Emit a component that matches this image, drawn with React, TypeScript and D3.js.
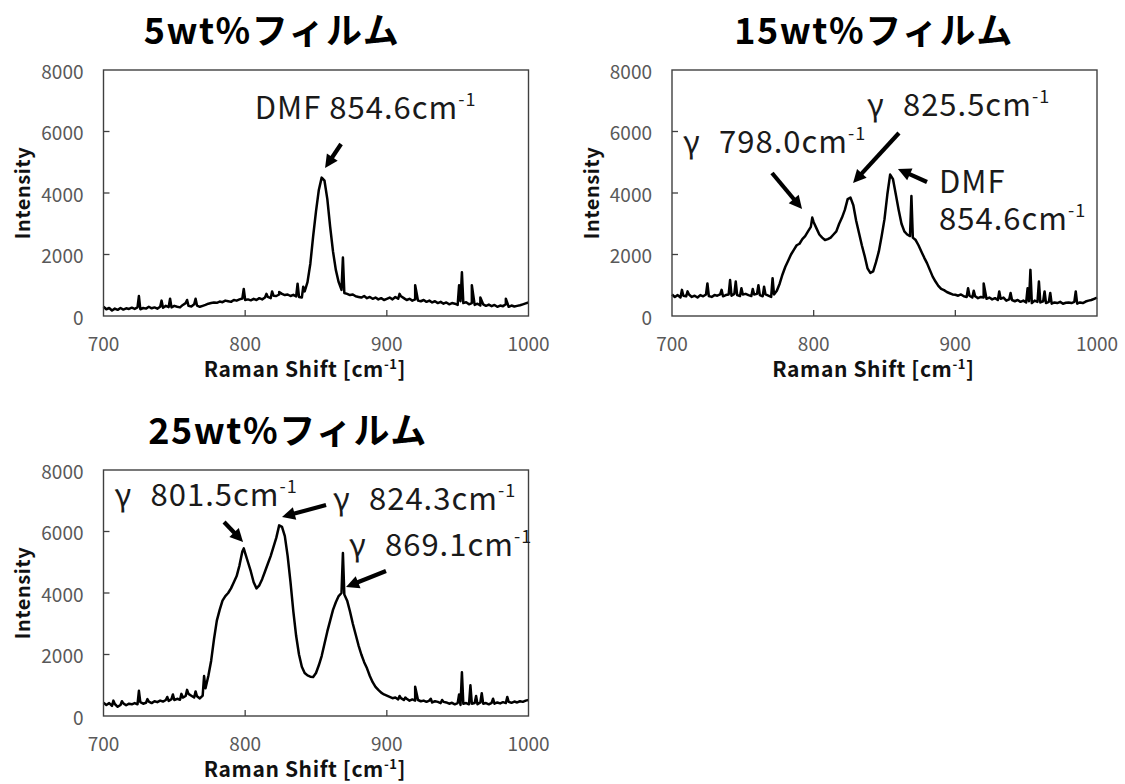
import React from 'react';
import * as d3 from 'd3';

// ---------- data ----------
const SHIFT: number[] = d3.range(700, 1001, 2); // Raman shift sampling grid (cm-1)
const X_TICKS = [700, 800, 900, 1000];
const Y_TICKS = [0, 2000, 4000, 6000, 8000];
const X_DOMAIN: [number, number] = [700, 1000];
const Y_DOMAIN: [number, number] = [0, 8000];

const TITLE_5 = '5wt%フィルム';
const TITLE_15 = '15wt%フィルム';
const TITLE_25 = '25wt%フィルム';

// 5wt% film intensity (step 2 cm-1)
const I5: number[] = [
  300, 220, 260, 180, 240, 200, 260, 210, 250, 230, 270,
  230, 280, 220, 260, 240, 300, 250, 280, 240, 300,
  270, 330, 290, 280, 330, 300, 280, 360, 420, 330,
  310, 380, 340, 300, 330, 360, 400, 420, 440, 430,
  470, 450, 500, 480, 460, 520, 500, 540, 570, 520,
  540, 510, 560, 520, 580, 540, 600, 620, 580, 660,
  650, 700, 720, 680, 700, 650, 690, 640, 620, 600,
  800, 1100, 1700, 2600, 3400, 4100, 4500, 4400, 3800, 2900,
  2100, 1500, 1100, 850, 750, 720, 680, 700, 640, 620,
  600, 650, 580, 620, 560, 600, 540, 580, 520, 560,
  600, 540, 620, 560, 640, 580, 520, 560, 500, 540,
  500, 480, 520, 460, 500, 440, 480, 420, 460, 400,
  440, 380, 420, 400, 360, 480, 420, 450, 380, 420,
  360, 400, 340, 380, 330, 370, 320, 360, 300, 340,
  320, 380, 300, 340, 310, 330, 350, 380, 410, 440,
];
const SPIKES5: [number, number][] = [
  [725, 650], [741, 500], [747, 560], [759, 520], [765, 560], [799, 880],
  [815, 720], [819, 800], [824, 780], [837, 1050], [841, 950], [869, 1900],
  [909, 720], [920, 1000], [951, 1000], [953, 1420], [960, 1000], [966, 600], [984, 560],
];

// 15wt% film intensity
const I15: number[] = [
  700, 620, 680, 600, 660, 640, 700, 620, 660, 600, 680,
  640, 700, 650, 620, 680, 660, 700, 640, 680, 700,
  660, 720, 680, 650, 700, 720, 680, 650, 700, 720,
  680, 640, 700, 660, 620, 700, 820, 1050, 1350, 1600,
  1800, 2000, 2150, 2300, 2350, 2500, 2600, 2750, 2900, 3050,
  2850, 2650, 2550, 2470, 2500, 2550, 2650, 2750, 3000, 3200,
  3450, 3800, 3850, 3600, 3100, 2700, 2300, 1950, 1550, 1400,
  1450, 1750, 2100, 2600, 3150, 3950, 4600, 4450, 3950, 3450,
  3000, 2750, 2650, 2600, 2550, 2470, 2300, 2100, 1900, 1720,
  1500, 1280, 1120, 980, 880, 840, 780, 740, 700, 690,
  660, 700, 640, 620, 660, 600, 640, 580, 620, 600,
  560, 600, 540, 580, 520, 560, 600, 500, 540, 520,
  480, 520, 460, 500, 440, 480, 420, 500, 460, 440,
  480, 420, 460, 400, 440, 420, 460, 400, 430, 440,
  420, 460, 400, 440, 420, 470, 500, 520, 560, 600,
];
const SPIKES15: [number, number][] = [
  [707, 850], [711, 800], [725, 1060], [735, 850], [741, 1170], [745, 1120],
  [749, 900], [757, 880], [761, 1000], [765, 950], [771, 1230], [799, 3200],
  [869, 3900], [909, 900], [913, 820], [920, 1060], [931, 800], [939, 750],
  [951, 900], [953, 1500], [959, 1120], [963, 800], [967, 750], [985, 800],
];

// 25wt% film intensity
const I25: number[] = [
  430, 360, 420, 330, 390, 300, 360, 410, 350, 400, 380,
  420, 380, 450, 400, 430, 470, 420, 480, 450, 500,
  470, 520, 490, 550, 520, 560, 530, 600, 650, 720,
  660, 600, 640, 570, 660, 900, 1300, 1800, 2500, 3100,
  3450, 3750, 3900, 4000, 4150, 4350, 4550, 4900, 5350, 5300,
  5000, 4700, 4350, 4150, 4250, 4450, 4700, 4950, 5200, 5500,
  5800, 6200, 6150, 5850, 5200, 4350, 3400, 2600, 2000, 1600,
  1400, 1320, 1280, 1270, 1400, 1650, 1950, 2350, 2750, 3100,
  3450, 3700, 3900, 4000, 3950, 3750, 3400, 3000, 2650, 2300,
  2000, 1750, 1550, 1300, 1100, 950, 850, 760, 700, 660,
  620, 580, 600, 540, 580, 520, 560, 500, 540, 500,
  520, 480, 500, 460, 500, 440, 480, 460, 420, 460,
  440, 400, 430, 380, 420, 360, 400, 420, 380, 400,
  420, 380, 440, 400, 420, 380, 430, 400, 440, 410,
  450, 420, 460, 430, 470, 440, 480, 460, 500, 520,
];
const SPIKES25: [number, number][] = [
  [707, 500], [713, 480], [725, 820], [731, 550], [745, 620], [749, 700],
  [755, 720], [759, 850], [765, 800], [771, 1300], [799, 5450], [869, 5300],
  [909, 650], [913, 600], [920, 950], [931, 560], [939, 520], [951, 700],
  [953, 1420], [959, 1000], [963, 650], [967, 740], [975, 560], [985, 620],
];

// annotations in data coordinates: [x, y] baseline-left of text
type Label = { prefix: string; text: string; sup: boolean; at: [number, number] };
type Arrow = { from: [number, number]; to: [number, number] };

const LABELS5: Label[] = [{ prefix: '', text: 'DMF 854.6cm', sup: true, at: [806.8, 6407] }];
const ARROWS5: Arrow[] = [{ from: [867.7, 5593], to: [856.4, 4813] }];

const LABELS15: Label[] = [
  { prefix: 'γ', text: '798.0cm', sup: true, at: [707.8, 5300] },
  { prefix: 'γ', text: '825.5cm', sup: true, at: [837.6, 6504] },
  { prefix: '', text: 'DMF', sup: false, at: [888.5, 4000] },
  { prefix: '', text: '854.6cm', sup: true, at: [888.5, 2797] },
];
const ARROWS15: Arrow[] = [
  { from: [770.6, 4650], to: [791.8, 3480] },
  { from: [860.2, 5951], to: [827.8, 4325] },
  { from: [880.0, 4358], to: [859.5, 4780] },
];

const LABELS25: Label[] = [
  { prefix: 'γ', text: '801.5cm', sup: true, at: [707.8, 6829] },
  { prefix: 'γ', text: '824.3cm', sup: true, at: [862.0, 6699] },
  { prefix: 'γ', text: '869.1cm', sup: true, at: [873.3, 5203] },
];
const ARROWS25: Arrow[] = [
  { from: [785.1, 6309], to: [798.5, 5659] },
  { from: [857.1, 6862], to: [826.0, 6472] },
  { from: [899.4, 4715], to: [871.2, 4195] },
];

// ---------- styling / layout ----------
const FONT = "'Noto Sans CJK JP','Noto Sans',sans-serif";
const W = 1125;
const H = 784;
const PW = 425;
const PH = 246;
const GAMMA_GAP = 36;

function buildSeries(base: number[], spikes: [number, number][]): [number, number][] {
  const pts: [number, number][] = base.map((v, i) => [SHIFT[i], v]);
  spikes.forEach((s) => pts.push(s));
  pts.sort((a, b) => a[0] - b[0]);
  return pts;
}

type PanelProps = {
  left: number;
  top: number;
  title: string;
  titleCx: number;
  base: number[];
  spikes: [number, number][];
  labels: Label[];
  arrows: Arrow[];
};

function Panel({ left, top, title, titleCx, base, spikes, labels, arrows }: PanelProps) {
  const x = d3.scaleLinear().domain(X_DOMAIN).range([0, PW]);
  const y = d3.scaleLinear().domain(Y_DOMAIN).range([PH, 0]);
  const line = d3
    .line<[number, number]>()
    .x((d) => x(d[0]))
    .y((d) => y(d[1]));
  const data = buildSeries(base, spikes);
  const tickColor = '#595959';
  return (
    <g transform={`translate(${left},${top})`}>
      <text
        x={titleCx}
        y={-26}
        textAnchor="middle"
        fontFamily={FONT}
        fontWeight={700}
        fontSize={36}
        letterSpacing={1.5}
        fill="#000"
      >
        {title}
      </text>
      {/* y ticks */}
      {Y_TICKS.map((t) => (
        <g key={'y' + t}>
          {t > Y_DOMAIN[0] && t < Y_DOMAIN[1] && (
            <line x1={0} x2={6} y1={y(t)} y2={y(t)} stroke="#404040" strokeWidth={1.3} />
          )}
          <text
            x={-20}
            y={y(t)}
            textAnchor="end"
            dominantBaseline="central"
            fontFamily={FONT}
            fontSize={19}
            fill={tickColor}
          >
            {t}
          </text>
        </g>
      ))}
      {/* x ticks */}
      {X_TICKS.map((t) => (
        <g key={'x' + t}>
          {t > X_DOMAIN[0] && t < X_DOMAIN[1] && (
            <line x1={x(t)} x2={x(t)} y1={PH} y2={PH - 6} stroke="#404040" strokeWidth={1.3} />
          )}
          <text
            x={x(t)}
            y={PH + 26}
            textAnchor="middle"
            dominantBaseline="central"
            fontFamily={FONT}
            fontSize={19}
            fill={tickColor}
          >
            {t}
          </text>
        </g>
      ))}
      <path
        d={line(data) || ''}
        fill="none"
        stroke="#000"
        strokeWidth={2.5}
        strokeLinejoin="round"
      />
      <rect x={0} y={0} width={PW} height={PH} fill="none" stroke="#404040" strokeWidth={1.4} />
      {/* axis titles */}
      <text
        x={PW / 2 - 11}
        y={PH + 61}
        textAnchor="middle"
        fontFamily={FONT}
        fontWeight={700}
        fontSize={21}
        letterSpacing={0.6}
        fill="#111"
      >
        Raman Shift [cm
        <tspan dy={-8} fontSize={13}>
          -1
        </tspan>
        <tspan dy={8}>]</tspan>
      </text>
      <text
        transform={`translate(${-82},${PH / 2}) rotate(-90)`}
        textAnchor="middle"
        dominantBaseline="central"
        fontFamily={FONT}
        fontWeight={700}
        fontSize={20}
        letterSpacing={0.5}
        fill="#111"
      >
        Intensity
      </text>
      {/* annotations */}
      {arrows.map((a, i) => {
        const x1 = x(a.from[0]);
        const y1 = y(a.from[1]);
        const x2 = x(a.to[0]);
        const y2 = y(a.to[1]);
        const dx = x2 - x1;
        const dy = y2 - y1;
        const len = Math.hypot(dx, dy);
        const ux = dx / len;
        const uy = dy / len;
        const hl = 13;
        const hw = 6.5;
        const bx = x2 - ux * hl;
        const by = y2 - uy * hl;
        const pts = [
          [x2, y2],
          [bx - uy * hw, by + ux * hw],
          [bx + uy * hw, by - ux * hw],
        ]
          .map((p) => p.join(','))
          .join(' ');
        return (
          <g key={'a' + i}>
            <line x1={x1} y1={y1} x2={bx + ux} y2={by + uy} stroke="#000" strokeWidth={4.2} />
            <polygon points={pts} fill="#000" />
          </g>
        );
      })}
      {labels.map((l, i) => {
        const x0 = x(l.at[0]);
        return (
          <text
            key={'l' + i}
            x={x0}
            y={y(l.at[1])}
            fontFamily={FONT}
            fontSize={31}
            letterSpacing={1}
            fill="#1a1a1a"
          >
            {l.prefix && <tspan>{l.prefix}</tspan>}
            <tspan x={x0 + (l.prefix ? GAMMA_GAP : 0)}>{l.text}</tspan>
            {l.sup && (
              <tspan dy={-13} fontSize={18}>
                -1
              </tspan>
            )}
          </text>
        );
      })}
    </g>
  );
}

export default function App() {
  return (
    <div style={{ position: 'absolute', left: 0, top: 0, width: W, height: H, background: '#fff' }}>
      <svg width={W} height={H} viewBox={`0 0 ${W} ${H}`} style={{ display: 'block' }}>
        <rect x={0} y={0} width={W} height={H} fill="#fff" />
        <Panel
          left={103.5}
          top={70}
          title={TITLE_5}
          titleCx={168.5}
          base={I5}
          spikes={SPIKES5}
          labels={LABELS5}
          arrows={ARROWS5}
        />
        <Panel
          left={672}
          top={70}
          title={TITLE_15}
          titleCx={202}
          base={I15}
          spikes={SPIKES15}
          labels={LABELS15}
          arrows={ARROWS15}
        />
        <Panel
          left={103.5}
          top={470}
          title={TITLE_25}
          titleCx={184.5}
          base={I25}
          spikes={SPIKES25}
          labels={LABELS25}
          arrows={ARROWS25}
        />
      </svg>
    </div>
  );
}
